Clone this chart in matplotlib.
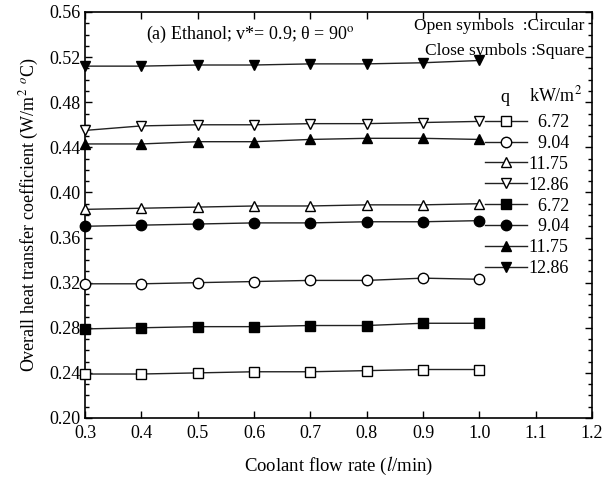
import numpy as np
import matplotlib.pyplot as plt
from matplotlib.ticker import MultipleLocator

plt.rcParams['font.family'] = ['Liberation Serif', 'DejaVu Serif']
plt.rcParams['mathtext.fontset'] = 'stix'

flow = [0.3, 0.4, 0.5, 0.6, 0.7, 0.8, 0.9, 1.0]

# open symbols: circular tube
circ_672 = [0.239, 0.239, 0.240, 0.241, 0.241, 0.242, 0.243, 0.243]
circ_904 = [0.319, 0.319, 0.320, 0.321, 0.322, 0.322, 0.324, 0.323]
circ_1175 = [0.385, 0.386, 0.387, 0.388, 0.388, 0.389, 0.389, 0.390]
circ_1286 = [0.455, 0.459, 0.460, 0.460, 0.461, 0.461, 0.462, 0.463]
# closed symbols: square tube
sq_672 = [0.279, 0.280, 0.281, 0.281, 0.282, 0.282, 0.284, 0.284]
sq_904 = [0.370, 0.371, 0.372, 0.373, 0.373, 0.374, 0.374, 0.375]
sq_1175 = [0.443, 0.443, 0.445, 0.445, 0.447, 0.448, 0.448, 0.447]
sq_1286 = [0.512, 0.512, 0.513, 0.513, 0.514, 0.514, 0.515, 0.517]

labels = ['6.72', '9.04', '11.75', '12.86', '6.72', '9.04', '11.75', '12.86']

fig = plt.figure(figsize=(6.13, 4.79), dpi=100)
ax = fig.add_axes([85 / 613, 61 / 479, 507 / 613, 406 / 479])

series = [
    (circ_672, 's', 'white'),
    (circ_904, 'o', 'white'),
    (circ_1175, '^', 'white'),
    (circ_1286, 'v', 'white'),
    (sq_672, 's', 'black'),
    (sq_904, 'o', 'black'),
    (sq_1175, '^', 'black'),
    (sq_1286, 'v', 'black'),
]
for (vals, m, fc), lab in zip(series, labels):
    # pad short labels with an en space so the numbers line up on the right
    lab = '\u2002' + lab if len(lab) < 5 else lab
    ax.plot(flow, vals, color='#222222', lw=1.0, marker=m, ms=7.5,
            mfc=fc, mec='black', mew=1.0, label=lab, clip_on=False, zorder=3)

ax.set_xlim(0.3, 1.2)
ax.set_ylim(0.20, 0.56)
ax.xaxis.set_major_locator(MultipleLocator(0.1))
ax.yaxis.set_major_locator(MultipleLocator(0.04))
ax.yaxis.set_minor_locator(MultipleLocator(0.01))
ax.tick_params(which='both', direction='in', top=True, right=True,
               labelsize=13, width=1.0)
ax.tick_params(which='major', length=5)
ax.tick_params(which='minor', length=3)
ax.tick_params(axis='x', pad=5)
for s in ax.spines.values():
    s.set_linewidth(1.2)

ax.set_xlabel('Coolant flow rate ($\\mathit{l}$/min)', fontsize=13.5, labelpad=9)
ax.set_ylabel('Overall heat transfer coefficient (W/m$^2$ $^o$C)', fontsize=13,
              labelpad=6)

ax.text(0.12, 0.945, '(a) Ethanol; v*= 0.9; θ = 90$^\\mathrm{o}$',
        transform=ax.transAxes, fontsize=13, va='center')
ax.text(0.985, 0.965, 'Open symbols  :Circular', transform=ax.transAxes,
        fontsize=12.5, ha='right', va='center')
ax.text(0.985, 0.905, 'Close symbols :Square', transform=ax.transAxes,
        fontsize=12.5, ha='right', va='center')
ax.text((505 - 85) / 507, (418 - 97) / 406, 'q', transform=ax.transAxes,
        fontsize=13, ha='center', va='center')
ax.text(0.98, (418 - 95) / 406, 'kW/m$^2$', transform=ax.transAxes,
        fontsize=13, ha='right', va='center')

ax.legend(loc='upper left', bbox_to_anchor=((485 - 85) / 507, (418 - 114) / 406),
          frameon=False, fontsize=13, handlelength=2.33, handletextpad=0.1,
          labelspacing=0.215, borderpad=0, borderaxespad=0, numpoints=1)

fig.savefig('out.png', dpi=100)
